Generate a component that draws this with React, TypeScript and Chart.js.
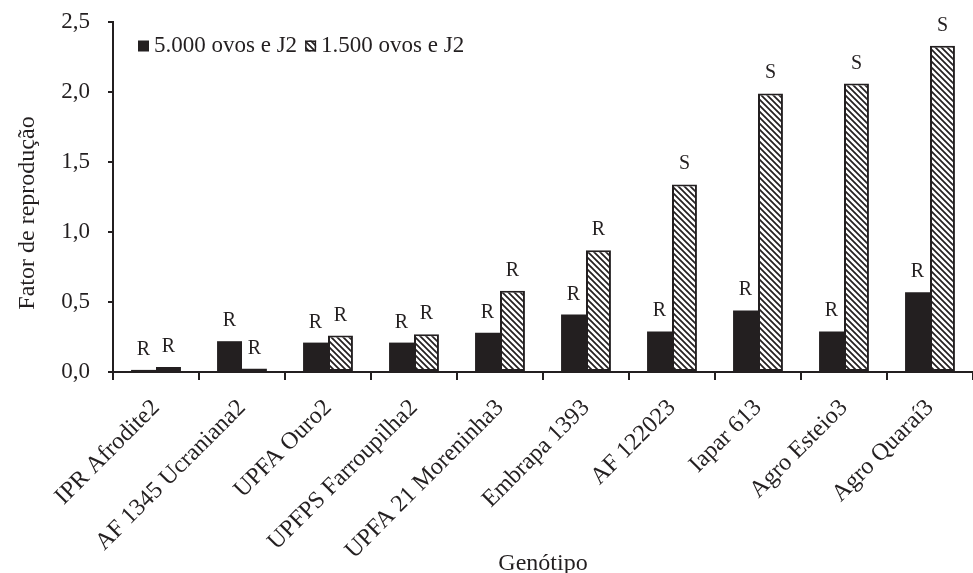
import { useEffect, useRef } from 'react';
import { Chart, registerables } from 'chart.js';

Chart.register(...registerables);

const genotypes = [
  'IPR Afrodite2',
  'AF 1345 Ucraniana2',
  'UPFA Ouro2',
  'UPFPS Farroupilha2',
  'UPFA 21 Moreninha3',
  'Embrapa 1393',
  'AF 122023',
  'Iapar 613',
  'Agro Esteio3',
  'Agro Quaraí3',
];
const series5000 = [0.015, 0.22, 0.21, 0.21, 0.28, 0.41, 0.29, 0.44, 0.29, 0.57];
const series1500 = [0.035, 0.025, 0.26, 0.27, 0.58, 0.87, 1.34, 1.99, 2.06, 2.33];
const class5000 = ['R', 'R', 'R', 'R', 'R', 'R', 'R', 'R', 'R', 'R'];
const class1500 = ['R', 'R', 'R', 'R', 'R', 'R', 'S', 'S', 'S', 'S'];
const seriesLabels = ['5.000 ovos e J2', '1.500 ovos e J2'];
const yMin = 0;
const yMax = 2.5;
const yStep = 0.5;
const xTitle = 'Genótipo';
const yTitle = 'Fator de reprodução';

const DARK = '#231f20';
const FONT = "'Liberation Serif', 'Times New Roman', serif";

function makeHatch(): CanvasPattern | string {
  const s = 6;
  const c = document.createElement('canvas');
  c.width = s;
  c.height = s;
  const g = c.getContext('2d');
  if (!g) return '#888';
  g.fillStyle = '#ffffff';
  g.fillRect(0, 0, s, s);
  g.strokeStyle = DARK;
  g.lineWidth = 1.7;
  g.lineCap = 'square';
  for (const k of [-s, 0, s]) {
    g.beginPath();
    g.moveTo(k - 1, -1);
    g.lineTo(k + s + 1, s + 1);
    g.stroke();
  }
  const p = g.createPattern(c, 'repeat');
  return p || '#888';
}

export default function App() {
  const ref = useRef<HTMLCanvasElement | null>(null);

  useEffect(() => {
    document.body.style.margin = '0';
    const canvas = ref.current;
    if (!canvas) return;
    const hatch = makeHatch();
    const classes = [class5000, class1500];

    const classLabels = {
      id: 'classLabels',
      afterDatasetsDraw(chart: any) {
        const ctx = chart.ctx;
        ctx.save();
        ctx.fillStyle = DARK;
        ctx.font = `20px ${FONT}`;
        ctx.textAlign = 'center';
        ctx.textBaseline = 'alphabetic';
        chart.data.datasets.forEach((_ds: any, di: number) => {
          const meta = chart.getDatasetMeta(di);
          meta.data.forEach((el: any, i: number) => {
            ctx.fillText(classes[di][i], el.x, el.y - 15);
          });
        });
        ctx.restore();
      },
    };

    const customLegend = {
      id: 'customLegend',
      afterDraw(chart: any) {
        const ctx = chart.ctx;
        const area = chart.chartArea;
        ctx.save();
        ctx.font = `23px ${FONT}`;
        ctx.textBaseline = 'middle';
        ctx.textAlign = 'left';
        let x = area.left + 25;
        const cy = area.top + 24;
        chart.data.datasets.forEach((ds: any, di: number) => {
          const box = 11;
          ctx.fillStyle = ds.backgroundColor;
          ctx.fillRect(x, cy - box / 2, box, box);
          if (di === 1) {
            ctx.strokeStyle = DARK;
            ctx.lineWidth = 1.5;
            ctx.strokeRect(x + 0.75, cy - box / 2 + 0.75, box - 1.5, box - 1.5);
          }
          ctx.fillStyle = DARK;
          ctx.fillText(ds.label, x + box + 5, cy);
          x += box + 5 + ctx.measureText(ds.label).width + 8;
        });
        ctx.restore();
      },
    };

    const yTitlePlugin = {
      id: 'yTitlePlugin',
      afterDraw(chart: any) {
        const ctx = chart.ctx;
        const area = chart.chartArea;
        ctx.save();
        ctx.font = `24px ${FONT}`;
        ctx.fillStyle = DARK;
        ctx.textAlign = 'center';
        ctx.textBaseline = 'middle';
        ctx.translate(chart.scales.y.left + 28, (area.top + area.bottom) / 2 + 16);
        ctx.rotate(-Math.PI / 2);
        ctx.fillText(yTitle, 0, 0);
        ctx.restore();
      },
    };

    const chart = new Chart(canvas, {
      type: 'bar',
      data: {
        labels: genotypes,
        datasets: [
          {
            label: seriesLabels[0],
            data: series5000,
            backgroundColor: DARK,
            borderColor: DARK,
            borderWidth: 0,
          },
          {
            label: seriesLabels[1],
            data: series1500,
            backgroundColor: hatch as any,
            borderColor: DARK,
            borderWidth: 2,
            borderSkipped: false,
          },
        ],
      },
      options: {
        responsive: false,
        animation: false,
        devicePixelRatio: 1,
        layout: { padding: { left: 0, right: -6, top: 22, bottom: 0 } },
        datasets: { bar: { categoryPercentage: 0.58, barPercentage: 1 } },
        plugins: {
          legend: { display: false },
          tooltip: { enabled: false },
        },
        scales: {
          x: {
            grid: {
              offset: true,
              drawOnChartArea: false,
              drawTicks: true,
              tickLength: 8,
              color: DARK,
              lineWidth: 2,
            },
            border: { color: DARK, width: 2 },
            ticks: {
              autoSkip: false,
              minRotation: 45,
              maxRotation: 45,
              color: DARK,
              padding: 14,
              font: { family: FONT, size: 24 },
            },
            title: {
              display: true,
              text: xTitle,
              color: DARK,
              font: { family: FONT, size: 24 },
              padding: { top: 0, bottom: -5 },
            },
            afterFit(scale: any) {
              scale.height = 201;
              scale.paddingLeft = 0;
              scale.paddingRight = 0;
            },
          },
          y: {
            min: yMin,
            max: yMax,
            grid: {
              drawOnChartArea: false,
              drawTicks: true,
              tickLength: 5,
              color: DARK,
              lineWidth: 2,
            },
            border: { color: DARK, width: 2 },
            ticks: {
              stepSize: yStep,
              color: DARK,
              padding: 18,
              font: { family: FONT, size: 23 },
              callback: (v: any) => Number(v).toFixed(1).replace('.', ','),
            },
            title: { display: false },
            afterFit(scale: any) {
              scale.width = 113;
              scale.paddingTop = 0;
              scale.paddingBottom = 0;
            },
          },
        },
      },
      plugins: [classLabels, customLegend, yTitlePlugin],
    });

    return () => chart.destroy();
  }, []);

  return (
    <div style={{ width: 973, height: 573, background: '#fff' }}>
      <canvas ref={ref} width={973} height={573} />
    </div>
  );
}
